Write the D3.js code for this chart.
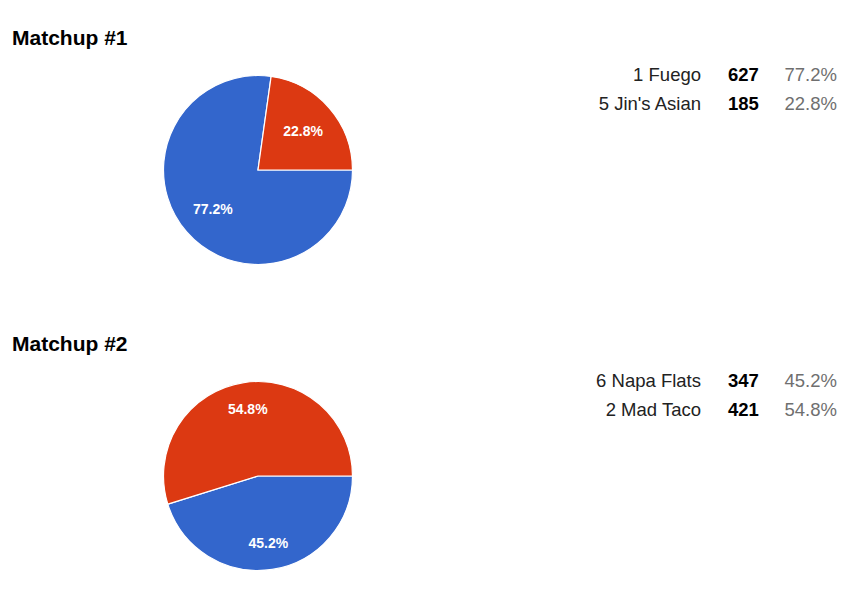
<!DOCTYPE html>
<html>
<head>
<meta charset="utf-8">
<script src="https://cdn.jsdelivr.net/npm/d3@7"></script>
<style>
  body { margin: 0; background: #fff; }
  text { font-family: Arial, "Liberation Sans", sans-serif; }
</style>
</head>
<body>
<svg id="chart" width="860" height="606"></svg>
<script>
// data
const matchups = ["Matchup #1", "Matchup #2"]
const teams = [["1 Fuego", "5 Jin's Asian"], ["6 Napa Flats", "2 Mad Taco"]]
const votes = [[627, 185], [347, 421]]
const colors = ["#3366cc", "#dc3912"]

const svg = d3.select("#chart")
const blockH = 306
const radius = 94.5
const fmt = d3.format(".1f")

const pie = d3.pie().sort(null)
    .startAngle(Math.PI / 2)
    .endAngle(Math.PI / 2 + 2 * Math.PI)
const arc = d3.arc().innerRadius(0).outerRadius(radius)

// put the label so its far box corner sits at 0.84 * radius
function labelPos(angle, hw, hh) {
    const ux = Math.sin(angle), uy = -Math.cos(angle)
    const cx = Math.sign(ux) * hw, cy = Math.sign(uy) * hh
    const R = radius * 0.84
    // |t*u + c| = R
    const b = 2 * (ux * cx + uy * cy)
    const c = cx * cx + cy * cy - R * R
    const t = (-b + Math.sqrt(b * b - 4 * c)) / 2
    return [t * ux, t * uy]
}

matchups.forEach((title, m) => {
    const g = svg.append("g").attr("transform", `translate(0,${m * blockH})`)
    const total = d3.sum(votes[m])
    const rows = teams[m].map((t, i) => ({ name: t, v: votes[m][i], pct: votes[m][i] / total * 100, color: colors[i] }))

    g.append("text")
        .attr("x", 12).attr("y", 45)
        .style("font-size", "21px").style("font-weight", "bold")
        .attr("fill", "#000")
        .text(title)

    const pg = g.append("g").attr("transform", "translate(258,170)")
    const arcs = pie.value(d => d.v)(rows)

    pg.selectAll("path").data(arcs).enter()
        .append("path")
        .attr("d", arc)
        .attr("fill", d => d.data.color)
        .attr("stroke", "#fff")
        .attr("stroke-width", 1.2)

    pg.selectAll("text.lbl").data(arcs).enter()
        .append("text")
        .attr("class", "lbl")
        .attr("text-anchor", "middle")
        .attr("dy", "0.36em")
        .style("font-size", "14px").style("font-weight", "bold")
        .attr("fill", "#fff")
        .text(d => fmt(d.data.pct) + "%")
        .each(function(d) {
            const bb = this.getBBox()
            const mid = (d.startAngle + d.endAngle) / 2
            const p = labelPos(mid, bb.width / 2, 6)
            d3.select(this).attr("x", p[0]).attr("y", p[1])
        })

    // legend table on the right
    const lg = g.append("g")
    rows.forEach((r, i) => {
        const y = 81 + i * 29
        lg.append("text").attr("x", 701).attr("y", y)
            .attr("text-anchor", "end").style("font-size", "18.5px")
            .attr("fill", "#222").text(r.name)
        lg.append("text").attr("x", 728).attr("y", y)
            .style("font-size", "18.5px").style("font-weight", "bold")
            .attr("fill", "#000").text(r.v)
        lg.append("text").attr("x", 837).attr("y", y)
            .attr("text-anchor", "end").style("font-size", "18.5px")
            .attr("fill", "#6f6f6f").text(fmt(r.pct) + "%")
    })
})
</script>
</body>
</html>
